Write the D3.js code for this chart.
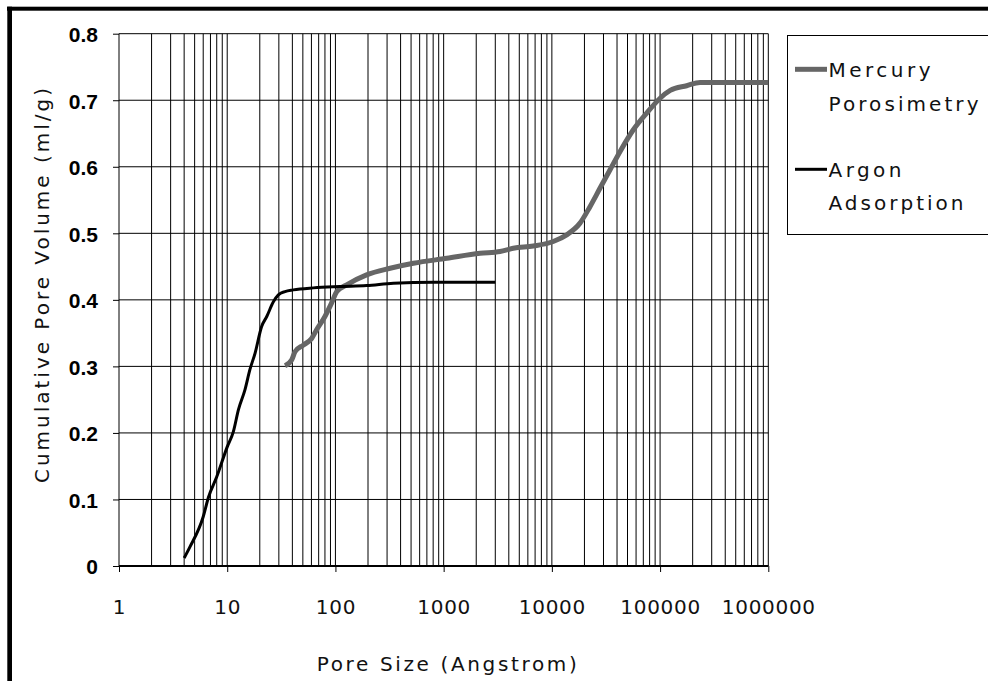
<!DOCTYPE html>
<html>
<head>
<meta charset="utf-8">
<script src="https://cdn.jsdelivr.net/npm/d3@7"></script>
<style>
  html, body { margin: 0; padding: 0; background: #fff; }
  svg { display: block; }
</style>
</head>
<body>
<script>
// ---- Data ----
const argonSize = [4.0, 4.5, 6.0, 6.7, 8.0, 10, 11.4, 12.7, 14.6, 16.2, 18.1, 20.8, 23.2, 26.7, 29.7, 34.2, 40.8, 62.5, 110, 194, 343, 804, 3000];
const argonVol  = [0.012, 0.028, 0.074, 0.103, 0.134, 0.179, 0.202, 0.235, 0.265, 0.295, 0.320, 0.360, 0.375, 0.397, 0.4075, 0.4125, 0.415, 0.418, 0.420, 0.4215, 0.425, 0.4265, 0.4265];

const mercurySize = [34.2, 39.5, 42.3, 50.5, 60.3, 67, 80, 92, 103, 127, 194, 320, 525, 1070, 2170, 3320, 4400, 6750, 10300, 13700, 18200, 22500, 27900, 34500, 42700, 56600, 75300, 100000, 124000, 176000, 234000, 1000000];
const mercuryVol  = [0.301, 0.31, 0.322, 0.332, 0.342, 0.355, 0.375, 0.395, 0.4125, 0.4225, 0.4375, 0.4475, 0.455, 0.4625, 0.470, 0.4727, 0.4775, 0.481, 0.4877, 0.4977, 0.5153, 0.540, 0.568, 0.5955, 0.623, 0.6556, 0.6807, 0.703, 0.7147, 0.7218, 0.7268, 0.7268];

const xTickValues = [1, 10, 100, 1000, 10000, 100000, 1000000];
const xTickLabels = ["1", "10", "100", "1000", "10000", "100000", "1000000"];
const yTickValues = [0, 0.1, 0.2, 0.3, 0.4, 0.5, 0.6, 0.7, 0.8];
const yTickLabels = ["0", "0.1", "0.2", "0.3", "0.4", "0.5", "0.6", "0.7", "0.8"];
const seriesNames = ["Mercury", "Porosimetry", "Argon", "Adsorption"];

// ---- Layout ----
const W = 988, H = 681;
const plot = { left: 119, right: 768.3, top: 33.7, bottom: 566 };

const svg = d3.select("body").append("svg").attr("width", W).attr("height", H);
svg.append("rect").attr("width", W).attr("height", H).attr("fill", "#fff");

const x = d3.scaleLog().domain([1, 1e6]).range([plot.left, plot.right]);
const y = d3.scaleLinear().domain([0, 0.8]).range([plot.bottom, plot.top]);

// minor + major vertical gridlines
const vGrid = [];
for (let d = 1; d < 1e6; d *= 10) for (let k = 1; k <= 9; k++) vGrid.push(d * k);
vGrid.push(1e6);
svg.append("g").selectAll("line").data(vGrid.filter(v => v > 1)).join("line")
  .attr("x1", d => x(d)).attr("x2", d => x(d))
  .attr("y1", plot.top).attr("y2", plot.bottom)
  .attr("stroke", "#000").attr("stroke-width", 1);

// horizontal gridlines
svg.append("g").selectAll("line").data(yTickValues.filter(v => v > 0)).join("line")
  .attr("x1", plot.left).attr("x2", plot.right)
  .attr("y1", d => y(d)).attr("y2", d => y(d))
  .attr("stroke", "#000").attr("stroke-width", 1);

// Y axis
const yAxis = d3.axisLeft(y).tickValues(yTickValues).tickSize(6).tickFormat((d, i) => yTickLabels[i]);
const gy = svg.append("g").attr("transform", `translate(${plot.left},0)`).call(yAxis);
gy.select(".domain").attr("stroke", "#000").attr("d", `M-0,${plot.bottom}V${plot.top}`);
gy.selectAll(".tick line").attr("stroke", "#000");
gy.selectAll(".tick text")
  .attr("x", -21).attr("dy", "0.38em")
  .attr("font-family", "'Liberation Sans', Arial, sans-serif")
  .attr("font-weight", "bold").attr("font-size", 21).attr("fill", "#000");

// X axis
const xAxis = d3.axisBottom(x).tickValues(xTickValues).tickSize(6).tickFormat((d, i) => xTickLabels[i]);
const gx = svg.append("g").attr("transform", `translate(0,${plot.bottom})`).call(xAxis);
gx.select(".domain").attr("stroke", "#000").attr("stroke-width", 2).attr("d", `M${plot.left},0H${plot.right}`);
gx.selectAll(".tick line").attr("stroke", "#000");
gx.selectAll(".tick text")
  .attr("y", 47.5).attr("dy", 0)
  .attr("font-family", "'DejaVu Sans', Verdana, sans-serif")
  .attr("font-size", 20).attr("fill", "#111")
  .attr("letter-spacing", 0.7);

// Lines
const line = d3.line().x(d => x(d[0])).y(d => y(d[1])).curve(d3.curveMonotoneX);
const merc = mercurySize.map((s, i) => [s, mercuryVol[i]]);
const argo = argonSize.map((s, i) => [s, argonVol[i]]);
svg.append("path").attr("d", line(merc)).attr("fill", "none")
  .attr("stroke", "#666").attr("stroke-width", 5).attr("stroke-linejoin", "round");
svg.append("path").attr("d", line(argo)).attr("fill", "none")
  .attr("stroke", "#000").attr("stroke-width", 3).attr("stroke-linejoin", "round");

// Axis titles
const labelFont = "'DejaVu Sans', Verdana, sans-serif";
svg.append("text").text("Pore Size (Angstrom)")
  .attr("x", 446.7).attr("y", 670.5).attr("text-anchor", "middle")
  .attr("font-family", labelFont).attr("font-size", 20).attr("fill", "#111")
  .attr("textLength", 260).attr("lengthAdjust", "spacing");
svg.append("text").text("Cumulative Pore Volume (ml/g)")
  .attr("transform", "translate(49,285.5) rotate(-90)").attr("text-anchor", "middle")
  .attr("font-family", labelFont).attr("font-size", 20).attr("fill", "#111")
  .attr("textLength", 395).attr("lengthAdjust", "spacing");

// Legend
const leg = svg.append("g");
leg.append("rect").attr("x", 787.5).attr("y", 35.5).attr("width", 215).attr("height", 199)
  .attr("fill", "#fff").attr("stroke", "#000").attr("stroke-width", 1);
leg.append("line").attr("x1", 795).attr("x2", 827).attr("y1", 69.3).attr("y2", 69.3)
  .attr("stroke", "#666").attr("stroke-width", 5);
leg.append("line").attr("x1", 795).attr("x2", 827).attr("y1", 169.3).attr("y2", 169.3)
  .attr("stroke", "#000").attr("stroke-width", 3);
const legText = [
  { t: seriesNames[0], y: 76.5, w: 102 },
  { t: seriesNames[1], y: 111, w: 150 },
  { t: seriesNames[2], y: 177, w: 73 },
  { t: seriesNames[3], y: 209.5, w: 135 }
];
leg.selectAll("text.lg").data(legText).join("text").attr("class", "lg")
  .text(d => d.t).attr("x", 828.5).attr("y", d => d.y)
  .attr("font-family", labelFont).attr("font-size", 20).attr("fill", "#111")
  .attr("textLength", d => d.w).attr("lengthAdjust", "spacing");

// Outer frame (top and left thick borders)
svg.append("rect").attr("x", 7).attr("y", 6.7).attr("width", W - 7).attr("height", 4).attr("fill", "#000");
svg.append("rect").attr("x", 7.3).attr("y", 6.7).attr("width", 4.7).attr("height", H - 6.7).attr("fill", "#000");
</script>
</body>
</html>
